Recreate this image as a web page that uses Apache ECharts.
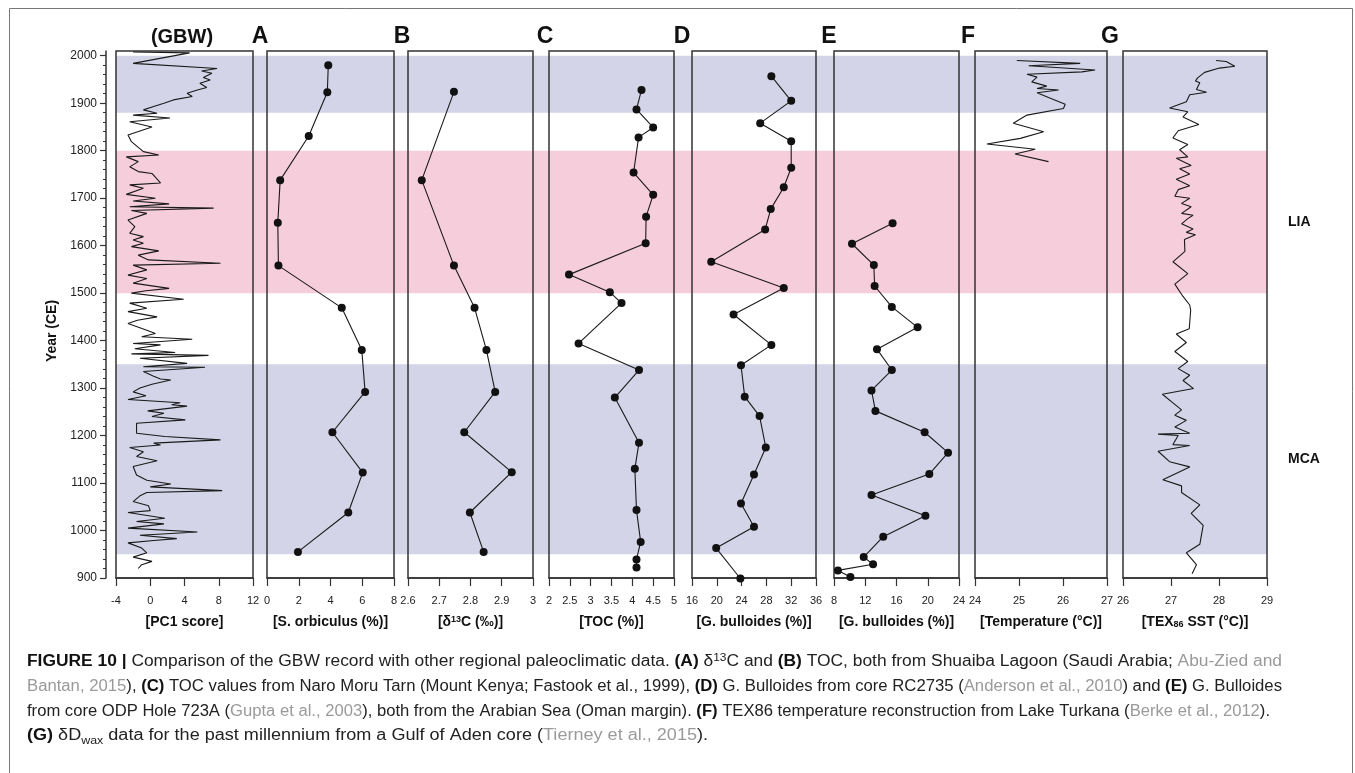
<!DOCTYPE html>
<html>
<head>
<meta charset="utf-8">
<title>Figure 10 - GBW record vs regional paleoclimatic data</title>
<script src="https://cdn.jsdelivr.net/npm/echarts@6/dist/echarts.min.js"></script>
<style>
  html, body { margin: 0; padding: 0; background: #fff; }
  #chart { width: 1355px; height: 773px; }
</style>
</head>
<body>
<div id="chart"></div>
<script>
// ===== data =====

const yearTicks = [900, 1000, 1100, 1200, 1300, 1400, 1500, 1600, 1700, 1800, 1900, 2000];

// climate periods shaded across all panels
const bandStart = [1880, 1500, 950];
const bandEnd = [2000, 1800, 1350];
const bandLabel = ['', 'LIA', 'MCA'];

// GBW PC1 score
const pc1Year = [2008, 2006, 1984, 1973, 1968, 1963, 1954, 1949, 1942, 1933, 1928, 1921, 1914, 1907, 1900,
  1893, 1886, 1879, 1875, 1869, 1861, 1850, 1833, 1819, 1798, 1791, 1787, 1777, 1766, 1756, 1752, 1732,
  1728, 1721, 1708, 1700, 1694, 1688, 1682, 1679, 1674, 1668, 1654, 1640, 1626, 1619, 1612, 1605, 1598,
  1589, 1580, 1570, 1563, 1559, 1549, 1538, 1531, 1521, 1510, 1505, 1500, 1487, 1479, 1468, 1461, 1450,
  1443, 1436, 1422, 1415, 1408, 1403, 1394, 1391, 1383, 1375, 1372, 1369, 1363, 1352, 1345, 1344, 1335,
  1325, 1319, 1317, 1308, 1300, 1292, 1284, 1276, 1269, 1265, 1262, 1252, 1247, 1240, 1233, 1226, 1205,
  1198, 1195, 1191, 1184, 1180, 1175, 1166, 1156, 1147, 1135, 1117, 1106, 1098, 1092, 1084, 1080, 1073,
  1061, 1052, 1042, 1038, 1026, 1019, 1014, 1005, 997, 990, 983, 979, 974, 963, 953, 944, 935, 928, 920];
const pc1Score = [-2.0, 4.6, -2.0, 7.8, 6.0, 7.2, 6.2, 7.0, 5.8, 6.6, 5.5, 4.3, 4.9, 2.7, 1.6,
  0.4, -0.8, 0.8, -2.0, 2.3, -2.4, 0.2, -2.6, -2.2, -0.8, 1.0, -2.8, -1.4, -2.4, -1.4, 0.2, 1.2,
  -2.4, -0.8, -2.8, 0.6, -2.0, 2.2, -2.4, 7.4, -2.2, -0.4, -2.6, -1.8, -2.4, -0.8, -2.0, -0.8, -2.2,
  1.0, -1.4, -0.2, 8.2, -2.0, -0.4, -2.6, -0.4, -2.0, 2.2, -0.5, -2.2, 3.9, -2.4, -0.4, -2.6, 0.8,
  -1.5, -2.6, -0.4, 0.6, -1.0, 4.9, -2.0, 1.2, -1.8, 2.9, -2.2, 6.8, -1.2, 4.3, -0.8, 6.4, -0.8,
  0.4, 1.2, 2.4, 0.2, -1.2, -2.0, -0.5, -2.6, 3.5, 2.5, 4.3, -0.3, 1.6, 0.2, 4.1, -1.6, -1.6,
  1.7, 1.5, 8.2, 0.4, 1.2, -2.4, -0.8, -1.6, 0.8, -2.0, -1.6, -0.4, 2.4, 0.0, 8.4, -0.4, -1.2,
  -2.0, -0.2, 0.0, -2.6, 1.7, -1.6, 1.6, -2.6, 5.5, -1.2, 3.1, 0.4, -2.6, -1.0, -0.4, -2.0, 0.2, -1.0, -1.4];

// (A) S. orbiculus, (B) d13C - Shuaiba Lagoon
const orbYear = [1980, 1923, 1831, 1738, 1648, 1558, 1469, 1380, 1292, 1207, 1122, 1038, 955];
const orbPct = [3.86, 3.80, 2.63, 0.83, 0.68, 0.72, 4.71, 5.97, 6.18, 4.12, 6.03, 5.12, 1.95];
const d13cYear = [1924, 1738, 1558, 1469, 1380, 1292, 1207, 1123, 1038, 955];
const d13cVal = [2.747, 2.644, 2.747, 2.813, 2.851, 2.879, 2.780, 2.932, 2.798, 2.842];

// (C) TOC - Naro Moru Tarn
const tocYear = [1928, 1887, 1849, 1828, 1754, 1707, 1661, 1605, 1539, 1502, 1479, 1394, 1338, 1280,
  1185, 1130, 1043, 976, 939, 922];
const tocPct = [4.22, 4.10, 4.50, 4.15, 4.03, 4.50, 4.33, 4.32, 2.48, 3.46, 3.74, 2.71, 4.16, 3.58,
  4.16, 4.06, 4.10, 4.20, 4.10, 4.10];

// (D) G. bulloides RC2735, (E) G. bulloides ODP 723A
const bullDYear = [1957, 1905, 1858, 1820, 1764, 1723, 1677, 1634, 1566, 1511, 1455, 1391, 1348, 1282,
  1241, 1175, 1118, 1057, 1008, 963, 899];
const bullDPct = [28.8, 32.0, 27.0, 32.0, 32.0, 30.8, 28.7, 27.8, 19.1, 30.8, 22.7, 28.8, 23.9, 24.5,
  26.9, 27.9, 26.0, 23.9, 26.0, 19.9, 23.8];
const bullEYear = [1647, 1604, 1559, 1515, 1471, 1428, 1382, 1338, 1295, 1252, 1207, 1164, 1119, 1075,
  1031, 987, 944, 929, 916, 902];
const bullEPct = [15.5, 10.3, 13.1, 13.2, 15.4, 18.7, 13.5, 15.4, 12.8, 13.3, 19.6, 22.6, 20.2, 12.8,
  19.7, 14.3, 11.8, 13.0, 8.5, 10.1];

// (F) Lake Turkana temperature
const turkYear = [1990, 1984, 1979, 1970, 1966, 1961, 1955, 1945, 1936, 1931, 1928, 1922, 1912, 1898,
  1889, 1875, 1858, 1840, 1826, 1814, 1803, 1793, 1777];
const turkTemp = [24.95, 26.39, 25.22, 26.73, 26.43, 25.18, 25.41, 25.29, 25.63, 25.41, 25.90, 25.41,
  25.67, 26.05, 26.01, 25.18, 24.87, 25.56, 25.03, 24.27, 25.37, 24.91, 25.67];

// (G) TEX86 SST
const texYear = [1990, 1988, 1978, 1974, 1965, 1954, 1947, 1943, 1929, 1923, 1918, 1903, 1890, 1882,
  1871, 1855, 1842, 1827, 1813, 1802, 1787, 1784, 1769, 1762, 1751, 1740, 1726, 1718, 1704, 1700,
  1689, 1682, 1668, 1664, 1657, 1646, 1635, 1628, 1623, 1613, 1588, 1566, 1541, 1519, 1493, 1475,
  1464, 1425, 1414, 1396, 1377, 1356, 1341, 1327, 1316, 1299, 1287, 1269, 1254, 1243, 1232, 1218,
  1205, 1203, 1200, 1181, 1179, 1167, 1145, 1134, 1107, 1094, 1080, 1054, 1036, 1011, 971, 953, 928, 909];
const texSst = [27.94, 28.15, 28.33, 28.01, 27.70, 27.56, 27.51, 27.60, 27.53, 27.74, 27.39, 27.32,
  26.97, 27.35, 27.25, 27.58, 27.15, 27.04, 27.35, 27.18, 27.35, 27.11, 27.42, 27.18, 27.39, 27.11,
  27.39, 27.15, 27.08, 27.39, 27.22, 27.42, 27.22, 27.46, 27.35, 27.22, 27.46, 27.32, 27.51, 27.28,
  27.29, 27.04, 27.35, 27.08, 27.25, 27.39, 27.41, 27.38, 27.11, 27.32, 27.08, 27.35, 27.15, 27.39,
  27.25, 27.47, 26.82, 27.04, 27.22, 27.08, 27.32, 27.08, 27.39, 26.73, 27.15, 27.04, 27.39, 26.73,
  26.97, 27.39, 26.83, 27.22, 27.22, 27.60, 27.42, 27.67, 27.60, 27.32, 27.53, 27.44];

// ===== layout & style =====

const FONT = '"Liberation Sans", Arial, sans-serif';
const INK = '#111';
const FRAME = '#333';
const bandColors = ['#d3d4e7', '#f6cddb', '#d3d4e7'];

const GRID_TOP = 51;
const GRID_HEIGHT = 527;
const panelLeft = [116, 267, 408, 549, 692, 834, 975, 1123];
const panelWidth = [137, 127, 125, 125, 124, 125, 132, 144];

const panels = [
  { title: '[PC1 score]', min: -4, max: 12, step: 4, years: pc1Year, values: pc1Score, dots: false },
  { title: '[S. orbiculus (%)]', min: 0, max: 8, step: 2, years: orbYear, values: orbPct, dots: true },
  { title: '[δ{sup|13}C (‰)]', min: 2.6, max: 3, step: 0.1, years: d13cYear, values: d13cVal, dots: true },
  { title: '[TOC (%)]', min: 2, max: 5, step: 0.5, years: tocYear, values: tocPct, dots: true },
  { title: '[G. bulloides (%)]', min: 16, max: 36, step: 4, years: bullDYear, values: bullDPct, dots: true },
  { title: '[G. bulloides (%)]', min: 8, max: 24, step: 4, years: bullEYear, values: bullEPct, dots: true },
  { title: '[Temperature (°C)]', min: 24, max: 27, step: 1, years: turkYear, values: turkTemp, dots: false },
  { title: '[TEX{sub|86} SST (°C)]', min: 26, max: 29, step: 1, years: texYear, values: texSst, dots: false }
];

// panel letters above the boxes
const letters = [
  { text: '(GBW)', x: 182, size: 20 },
  { text: 'A', x: 260, size: 23 },
  { text: 'B', x: 402, size: 23 },
  { text: 'C', x: 545, size: 23 },
  { text: 'D', x: 682, size: 23 },
  { text: 'E', x: 829, size: 23 },
  { text: 'F', x: 968, size: 23 },
  { text: 'G', x: 1110, size: 23 }
];

// caption, one array per printed line: [style, text]
const captionLines = [
  [['b', 'FIGURE 10 | '], ['n', 'Comparison of the GBW record with other regional paleoclimatic data. '],
    ['b', '(A)'], ['n', ' δ'], ['sup', '13'], ['n', 'C and '], ['b', '(B)'],
    ['n', ' TOC, both from Shuaiba Lagoon (Saudi Arabia; '], ['g', 'Abu-Zied and']],
  [['g', 'Bantan, 2015'], ['n', '), '], ['b', '(C)'],
    ['n', ' TOC values from Naro Moru Tarn (Mount Kenya; Fastook et al., 1999), '], ['b', '(D)'],
    ['n', ' G. Bulloides from core RC2735 ('], ['g', 'Anderson et al., 2010'], ['n', ') and '],
    ['b', '(E)'], ['n', ' G. Bulloides']],
  [['n', 'from core ODP Hole 723A ('], ['g', 'Gupta et al., 2003'],
    ['n', '), both from the Arabian Sea (Oman margin). '], ['b', '(F)'],
    ['n', ' TEX86 temperature reconstruction from Lake Turkana ('], ['g', 'Berke et al., 2012'], ['n', ').']],
  [['b', '(G)'], ['n', ' δD'], ['sub', 'wax'],
    ['n', ' data for the past millennium from a Gulf of Aden core ('], ['g', 'Tierney et al., 2015'], ['n', ').']]
];

const CAP_SIZE = 16;
const CAP_LEFT = 27;
const CAP_RIGHT = [1282, 1282, 1270, 708];
const CAP_Y = [662, 687, 712, 736];

// ===== helpers =====

function pairs(values, years) {
  return years.map(function (y, i) { return [values[i], y]; });
}

const capFonts = {
  n: CAP_SIZE + 'px ' + FONT,
  g: CAP_SIZE + 'px ' + FONT,
  b: 'bold ' + CAP_SIZE + 'px ' + FONT,
  sup: '11px ' + FONT,
  sub: '11px ' + FONT
};

function lineWidth(segs) {
  const ctx = document.createElement('canvas').getContext('2d');
  let w = 0;
  segs.forEach(function (s) {
    ctx.font = capFonts[s[0]];
    w += ctx.measureText(s[1]).width;
  });
  return w;
}

function richLine(segs) {
  return segs.map(function (s) { return s[0] === 'n' ? s[1] : '{' + s[0] + '|' + s[1] + '}'; }).join('');
}

// ===== build option =====

const grids = [{ left: 116, top: GRID_TOP, width: 1151, height: GRID_HEIGHT, show: false }];
const xAxes = [{ gridIndex: 0, type: 'value', min: 0, max: 1, show: false }];
const yAxes = [{ gridIndex: 0, type: 'value', min: 900, max: 2010, show: false }];

// background series carrying the period bands
const series = [{
  type: 'line',
  xAxisIndex: 0,
  yAxisIndex: 0,
  data: [[0.5, 900]],
  showSymbol: false,
  lineStyle: { opacity: 0 },
  silent: true,
  clip: false,
  markArea: {
    silent: true,
    label: { show: true, position: 'right', distance: 21, color: INK, fontSize: 14, fontWeight: 'bold', fontFamily: FONT },
    data: bandStart.map(function (s, i) {
      return [{ name: bandLabel[i], yAxis: s, itemStyle: { color: bandColors[i], opacity: 1 } }, { yAxis: bandEnd[i] }];
    })
  }
}];

panels.forEach(function (p, i) {
  grids.push({
    left: panelLeft[i], top: GRID_TOP, width: panelWidth[i], height: GRID_HEIGHT,
    show: true, borderColor: FRAME, borderWidth: 1.5, z: 3
  });

  xAxes.push({
    gridIndex: i + 1,
    type: 'value',
    min: p.min,
    max: p.max,
    interval: p.step,
    name: p.title,
    nameLocation: 'middle',
    nameGap: 37,
    nameTextStyle: {
      fontSize: 14, fontWeight: 'bold', color: INK, fontFamily: FONT,
      rich: {
        sup: { fontSize: 9, fontWeight: 'bold', color: INK, verticalAlign: 'top', fontFamily: FONT },
        sub: { fontSize: 9, fontWeight: 'bold', color: INK, verticalAlign: 'bottom', fontFamily: FONT }
      }
    },
    axisLine: { show: true, onZero: false, lineStyle: { color: FRAME, width: 1.5 } },
    axisTick: { show: true, length: 8, lineStyle: { color: FRAME, width: 1.2 } },
    axisLabel: { fontSize: 11, color: '#222', margin: 17, fontFamily: FONT },
    splitLine: { show: false }
  });

  const y = {
    gridIndex: i + 1, type: 'value', min: 900, max: 2010, show: i === 0,
    axisLine: { show: i === 0, onZero: false, lineStyle: { color: FRAME, width: 1.5 } },
    splitLine: { show: false }
  };
  if (i === 0) {
    y.position = 'left';
    y.offset = 10;
    y.axisTick = { show: true, length: 6, customValues: yearTicks, lineStyle: { color: FRAME, width: 1.2 } };
    y.axisLabel = {
      fontSize: 12, color: '#222', margin: 9, customValues: yearTicks, fontFamily: FONT,
      formatter: function (v) { return String(v); }
    };
  }
  yAxes.push(y);

  series.push({
    type: 'line',
    xAxisIndex: i + 1,
    yAxisIndex: i + 1,
    data: pairs(p.values, p.years),
    showSymbol: p.dots,
    symbol: 'circle',
    symbolSize: 8,
    itemStyle: { color: INK },
    lineStyle: { color: '#1a1a1a', width: 1.1 },
    silent: true,
    clip: false
  });
});

// minor year ticks every 20 years on the GBW axis
const minorYears = [];
for (let yr = 920; yr < 2000; yr += 20) {
  if (yr % 100 !== 0) minorYears.push(yr);
}
yAxes.push({
  gridIndex: 1, type: 'value', min: 900, max: 2010, position: 'left', offset: 10,
  axisLine: { show: false, onZero: false },
  axisTick: { show: true, length: 3, customValues: minorYears, lineStyle: { color: FRAME, width: 1 } },
  axisLabel: { show: false },
  splitLine: { show: false }
});

// ===== graphic texts =====

const graphics = [{
  type: 'rect', silent: true,
  shape: { x: 9.5, y: 8.5, width: 1343, height: 800 },
  style: { fill: 'none', stroke: '#777', lineWidth: 1 }
}, {
  type: 'text', silent: true, x: 52, y: 331, rotation: Math.PI / 2,
  style: { text: 'Year (CE)', font: 'bold 14px ' + FONT, fill: INK, textAlign: 'center', textVerticalAlign: 'middle' }
}];

letters.forEach(function (l) {
  graphics.push({
    type: 'text', silent: true, x: l.x, y: 37,
    style: { text: l.text, font: 'bold ' + l.size + 'px ' + FONT, fill: INK, textAlign: 'center', textVerticalAlign: 'middle' }
  });
});

captionLines.forEach(function (segs, i) {
  const scale = (CAP_RIGHT[i] - CAP_LEFT) / lineWidth(segs);
  graphics.push({
    type: 'text', silent: true, x: CAP_LEFT, y: CAP_Y[i], scaleX: scale,
    style: {
      text: richLine(segs),
      font: CAP_SIZE + 'px ' + FONT,
      fill: '#222',
      lineHeight: 20,
      textAlign: 'left',
      textVerticalAlign: 'middle',
      rich: {
        b: { fontWeight: 'bold', fontSize: CAP_SIZE, fontFamily: FONT, fill: '#111', lineHeight: 20 },
        g: { fill: '#9a9a9a', fontSize: CAP_SIZE, fontFamily: FONT, lineHeight: 20 },
        sup: { fontSize: 11, fontFamily: FONT, fill: '#222', verticalAlign: 'top', lineHeight: 20 },
        sub: { fontSize: 11, fontFamily: FONT, fill: '#222', verticalAlign: 'bottom', lineHeight: 20 }
      }
    }
  });
});

// ===== render =====

const chart = echarts.init(document.getElementById('chart'), null, { renderer: 'canvas' });
chart.setOption({
  animation: false,
  backgroundColor: '#fff',
  textStyle: { fontFamily: FONT },
  grid: grids,
  xAxis: xAxes,
  yAxis: yAxes,
  series: series,
  graphic: graphics
});

window.addEventListener('resize', function () { chart.resize(); });
</script>
</body>
</html>
